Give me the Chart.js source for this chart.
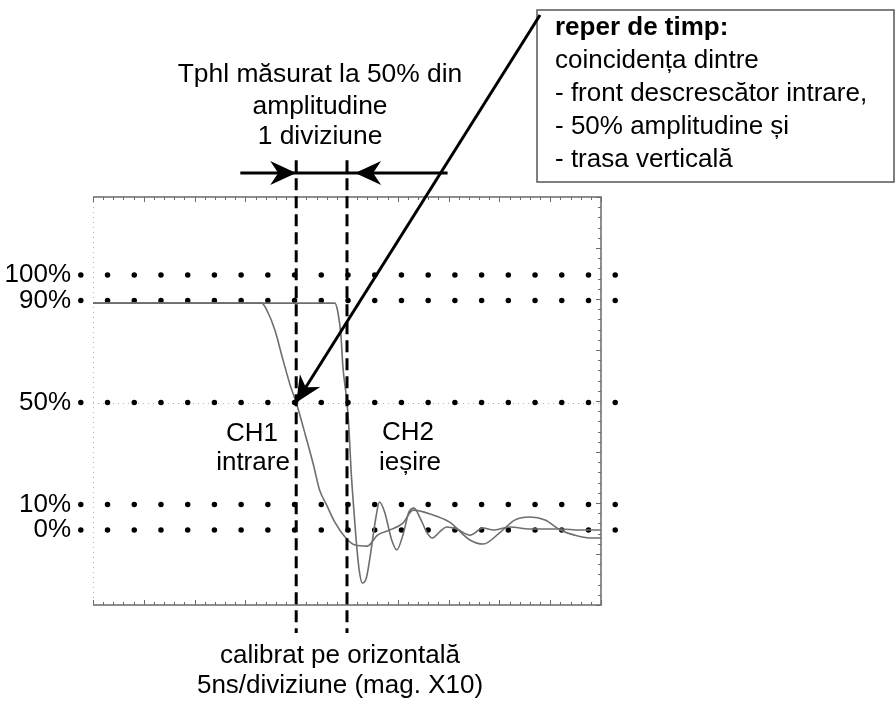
<!DOCTYPE html>
<html>
<head>
<meta charset="utf-8">
<script src="https://cdn.jsdelivr.net/npm/chart.js@4.4.1/dist/chart.umd.min.js"></script>
<style>
  body { margin: 0; background: #fff; }
  #wrap { width: 896px; height: 706px; }
</style>
</head>
<body>
<div id="wrap"><canvas id="grafic" width="896" height="706"></canvas></div>
<script>
// CH1 - intrare (timp in ns, amplitudine in %)
const ch1Timp = [0, 16.6, 17.2, 17.9, 18.7, 19.4, 20.0, 20.9, 21.7, 22.3, 23.0, 23.8, 24.8, 25.8, 27.0, 28.0, 29.2, 30.5, 31.5, 33.2, 35.1, 37.1, 38.4, 40.1, 41.5, 43.0, 44.5, 46.0, 47.4, 48.9, 50];
const ch1Ampl = [89, 89, 85.5, 78.4, 66.7, 56.9, 50, 37.3, 25.5, 15.7, 9.8, 3.1, -2.7, -5.9, -6.3, -2.0, 0, 2.7, 7.8, 6.3, 3.1, -3.9, -5.5, -0.8, 3.9, 5.1, 3.9, 0, -2.0, -3.1, -3.1];

// CH2 - iesire
const ch2Timp = [0, 23.8, 24.1, 24.4, 24.6, 25.0, 25.2, 25.4, 25.6, 25.9, 26.2, 26.5, 26.9, 27.3, 27.8, 28.2, 28.7, 29.4, 29.9, 30.5, 31.1, 31.6, 32.2, 32.9, 33.4, 34.2, 34.8, 35.8, 37.1, 38.4, 39.4, 41.0, 43.0, 46.0, 47.9, 50];
const ch2Ampl = [89, 89, 85.5, 76.5, 63.9, 50, 39.2, 23.5, 11.8, -3.9, -15.7, -20.8, -18.8, -9.8, 3.9, 11.0, 7.1, -3.9, -7.8, -2.0, 7.1, 8.6, 4.7, -1.2, -3.1, -0.4, 1.2, 0.4, -2.0, 0.8, 0, 1.2, 0.4, 0.4, 0, 0];

// nivele de referinta (randurile de puncte) si etichetele lor
const nivele = [100, 90, 50, 10, 0];
const puncteX = [-1.2, 51.4];

// markerii verticali (1 diviziune = 5 ns)
const markeriT = [20, 25];
const markeriY = [145, -40.4];

// sageti
const sageataTphlX = [14.5, 34.9];
const sageataTphlY = 140;
const sageataReperX = [44.0, 20];
const sageataReperY = [202, 50];

const linie = (xs, ys) => xs.map((v, i) => ({ x: v, y: Array.isArray(ys) ? ys[i] : ys }));

const FONT = '"Liberation Sans", Arial, sans-serif';

// varf de sageata (tip "stealth")
function varf(ctx, tx, ty, fx, fy) {
  const L = 26, W = 12, N = 8;
  const d = Math.hypot(tx - fx, ty - fy);
  const ux = (tx - fx) / d, uy = (ty - fy) / d;
  const nx = -uy, ny = ux;
  ctx.beginPath();
  ctx.moveTo(tx, ty);
  ctx.lineTo(tx - ux * L + nx * W, ty - uy * L + ny * W);
  ctx.lineTo(tx - ux * (L - N), ty - uy * (L - N));
  ctx.lineTo(tx - ux * L - nx * W, ty - uy * L - ny * W);
  ctx.closePath();
  ctx.fill();
}

const cadruEcran = {
  id: "cadruEcran",
  beforeDatasetsDraw(chart) {
    const { ctx, chartArea: a, scales: { x, y } } = chart;
    ctx.save();

    // caseta "reper de timp"
    ctx.fillStyle = "#fff";
    ctx.strokeStyle = "#555";
    ctx.lineWidth = 1.5;
    ctx.fillRect(537, 10, 357, 172);
    ctx.strokeRect(537, 10, 357, 172);

    // graticula slaba
    ctx.strokeStyle = "#b5b5b5";
    ctx.lineWidth = 1;
    ctx.setLineDash([1, 4]);
    ctx.beginPath();
    ctx.moveTo(a.left + 0.5, a.top);
    ctx.lineTo(a.left + 0.5, a.bottom);
    const yc = Math.round(y.getPixelForValue(50)) + 0.5;
    ctx.moveTo(a.left, yc);
    ctx.lineTo(a.right, yc);
    ctx.stroke();
    ctx.setLineDash([]);

    // marginile ecranului
    ctx.strokeStyle = "#6a6a6a";
    ctx.lineWidth = 1.5;
    ctx.beginPath();
    ctx.moveTo(a.left, a.top);
    ctx.lineTo(a.right, a.top);
    ctx.lineTo(a.right, a.bottom);
    ctx.lineTo(a.left, a.bottom);
    ctx.stroke();

    // gradatii
    ctx.lineWidth = 1;
    ctx.beginPath();
    for (let t = 0; t <= 50; t++) {
      const px = Math.round(x.getPixelForValue(t)) + 0.5;
      const l = t % 5 === 0 ? 5 : 3;
      ctx.moveTo(px, a.top); ctx.lineTo(px, a.top + l);
      ctx.moveTo(px, a.bottom); ctx.lineTo(px, a.bottom - l);
    }
    for (let k = 0; k <= 40; k++) {
      const py = Math.round(y.getPixelForValue(y.min + k * 4)) + 0.5;
      const l = k % 5 === 0 ? 5 : 3;
      ctx.moveTo(a.right, py); ctx.lineTo(a.right - l, py);
    }
    ctx.stroke();
    ctx.restore();
  },
  afterDatasetsDraw(chart) {
    const { ctx, scales: { x, y } } = chart;
    ctx.save();

    // varfurile sagetilor
    ctx.fillStyle = "#000";
    const yA = y.getPixelForValue(sageataTphlY);
    varf(ctx, x.getPixelForValue(markeriT[0]), yA, x.getPixelForValue(sageataTphlX[0]), yA);
    varf(ctx, x.getPixelForValue(25.8), yA, x.getPixelForValue(sageataTphlX[1]), yA);
    varf(ctx,
      x.getPixelForValue(sageataReperX[1]), y.getPixelForValue(sageataReperY[1]),
      x.getPixelForValue(sageataReperX[0]), y.getPixelForValue(sageataReperY[0]));

    // texte
    ctx.fillStyle = "#000";
    ctx.font = "26.4px " + FONT;
    ctx.textAlign = "center";
    ctx.textBaseline = "alphabetic";
    ctx.fillText("Tphl măsurat la 50% din", 320, 82);
    ctx.fillText("amplitudine", 320, 114);
    ctx.fillText("1 diviziune", 320, 144);
    ctx.font = "26px " + FONT;
    ctx.fillText("calibrat pe orizontală", 340, 663);
    ctx.fillText("5ns/diviziune (mag. X10)", 340, 693);
    ctx.fillText("CH1", 252, 441);
    ctx.fillText("intrare", 253, 470);
    ctx.fillText("CH2", 408, 440);
    ctx.fillText("ieșire", 410, 470);

    ctx.textAlign = "left";
    ctx.font = "bold 26px " + FONT;
    ctx.fillText("reper de timp:", 555, 35);
    ctx.font = "26px " + FONT;
    ctx.fillText("coincidența dintre", 555, 68);
    ctx.fillText("- front descrescător intrare,", 555, 101);
    ctx.fillText("- 50% amplitudine și", 555, 134);
    ctx.fillText("- trasa verticală", 555, 167);
    ctx.restore();
  }
};

const randuriPuncte = nivele.map(n => ({
  data: linie(puncteX, n),
  borderColor: "#000",
  borderWidth: 5.5,
  borderDash: [0, 26.72],
  borderCapStyle: "round",
  clip: false
}));

const markeri = markeriT.map(t => ({
  data: linie([t, t], markeriY),
  borderColor: "#000",
  borderWidth: 3,
  borderDash: [12, 6],
  clip: false
}));

new Chart(document.getElementById("grafic"), {
  type: "line",
  data: {
    datasets: [
      {
        data: linie(sageataReperX, sageataReperY),
        borderColor: "#000",
        borderWidth: 3,
        clip: false
      },
      {
        data: linie(sageataTphlX, sageataTphlY),
        borderColor: "#000",
        borderWidth: 3,
        clip: false
      },
      ...markeri,
      {
        data: linie(ch1Timp, ch1Ampl),
        borderColor: "#6e6e6e",
        borderWidth: 1.6,
        cubicInterpolationMode: "monotone"
      },
      {
        data: linie(ch2Timp, ch2Ampl),
        borderColor: "#6e6e6e",
        borderWidth: 1.6,
        cubicInterpolationMode: "monotone"
      },
      ...randuriPuncte
    ]
  },
  options: {
    responsive: false,
    devicePixelRatio: 1,
    animation: false,
    layout: { padding: { top: 197, right: 295, bottom: 101, left: 0 } },
    elements: { point: { radius: 0, hoverRadius: 0 } },
    plugins: { legend: { display: false }, tooltip: { enabled: false } },
    scales: {
      x: { type: "linear", min: 0, max: 50, display: false },
      y: {
        type: "linear",
        min: -29.4,
        max: 130.6,
        grid: { display: false, drawTicks: false },
        border: { display: false },
        afterBuildTicks: s => { s.ticks = nivele.map(v => ({ value: v })); },
        afterFit: s => { s.width = 93; },
        ticks: {
          autoSkip: false,
          padding: 22,
          color: "#000",
          font: { family: FONT, size: 26 },
          callback: v => v + "%"
        }
      }
    }
  },
  plugins: [cadruEcran]
});
</script>
</body>
</html>
